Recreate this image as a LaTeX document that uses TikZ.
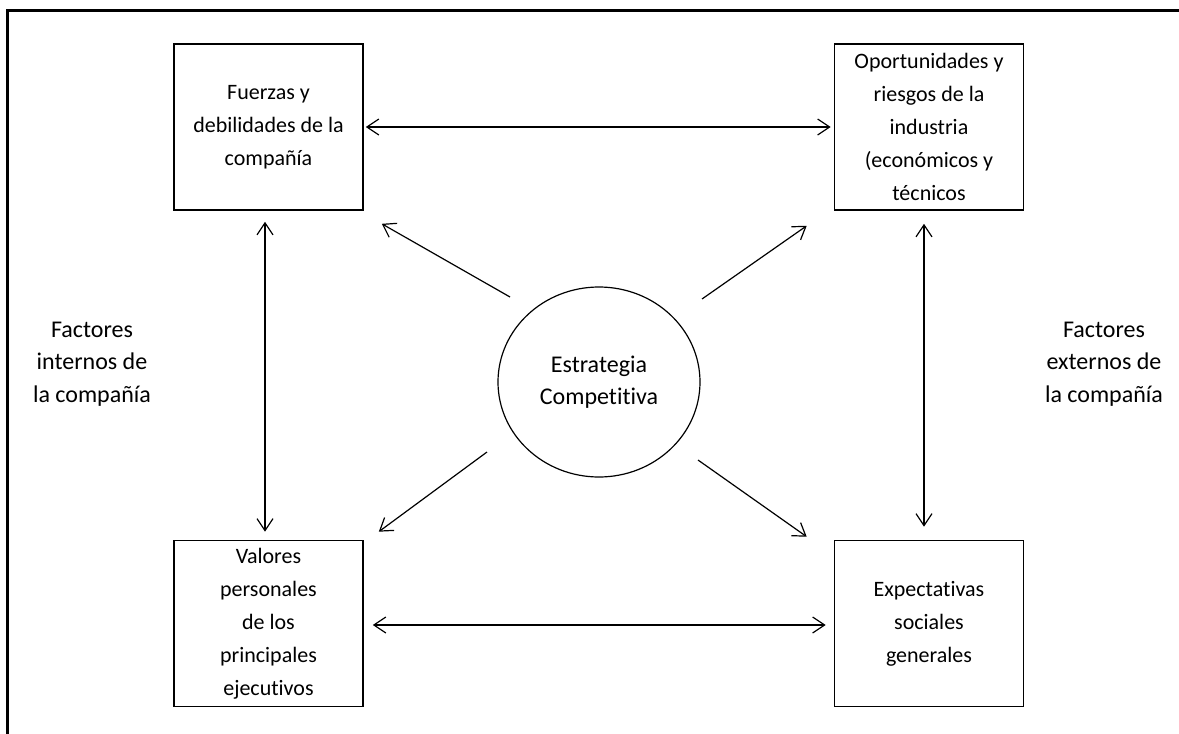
\documentclass[tikz,border=0pt]{standalone}
\usepackage{fontspec}
\setmainfont{Carlito}[Ligatures=NoCommon]
\usetikzlibrary{arrows.meta,positioning,calc,shapes.geometric}
\tikzstyle{factor}=[draw,line width=1.6pt,minimum width=189pt,minimum height=166pt,inner sep=0pt,align=center,font=\fontsize{22}{33}\selectfont]
\tikzstyle{estrategia}=[draw,ellipse,minimum width=202pt,minimum height=190pt,inner sep=0pt,align=center,font=\fontsize{24}{32}\selectfont]
\tikzstyle{lado}=[align=center,font=\fontsize{24}{32.5}\selectfont]
\tikzstyle{flecha}=[-{Straight Barb[length=12pt,width=16pt]}]
\tikzstyle{doble}=[{Straight Barb[length=12pt,width=16pt]}-{Straight Barb[length=12pt,width=16pt]}]

\begin{document}
\begin{tikzpicture}[x=1pt,y=-1pt,very thick]
    \useasboundingbox (0,0) rectangle (1179,734);
    \draw[line width=3pt] (7,734) -- (7,10) -- (1179,10);

    \node [factor] (fuerzas) at (268.5,127) {Fuerzas y\\debilidades de la\\compañía};
    \node [factor] (oportunidades) at (929,127) {Oportunidades y\\riesgos de la\\industria\\(económicos y\\técnicos};
    \node [factor] (valores) at (268.5,623.5) {Valores\\personales\\de los\\principales\\ejecutivos};
    \node [factor] (expectativas) at (929,623.5) {Expectativas\\sociales\\generales};
    \node [estrategia] (estrategia) at (599,382) {Estrategia\\Competitiva};
    \node [lado] (internos) at (92,364) {Factores\\internos de\\la compañía};
    \node [lado] (externos) at (1104,364) {Factores\\externos de\\la compañía};

    % entre cajas
    \draw [doble,shorten <=2pt,shorten >=3pt] (fuerzas.east) -- (oportunidades.west);
    \draw [doble,shorten <=9pt,shorten >=8pt] ([yshift=-1.5pt]valores.east) -- ([yshift=-1.5pt]expectativas.west);
    \draw [doble,shorten <=11pt,shorten >=8pt] ([xshift=-3.5pt]fuerzas.south) -- ([xshift=-3.5pt]valores.north);
    \draw [doble,shorten <=13pt,shorten >=13pt] ([xshift=-5pt]oportunidades.south) -- ([xshift=-5pt]expectativas.north);

    % desde la estrategia
    \draw [flecha] ($(estrategia.center)+(-89,-85)$) -- ($(fuerzas.south east)+(18,13)$);
    \draw [flecha] ($(estrategia.center)+(103,-83)$) -- ($(oportunidades.south west)+(-27,15)$);
    \draw [flecha] ($(estrategia.center)+(-112,70)$) -- ($(valores.north east)+(15,-8)$);
    \draw [flecha] ($(estrategia.center)+(99,78)$) -- ($(expectativas.north west)+(-27,-3)$);
\end{tikzpicture}
\end{document}
